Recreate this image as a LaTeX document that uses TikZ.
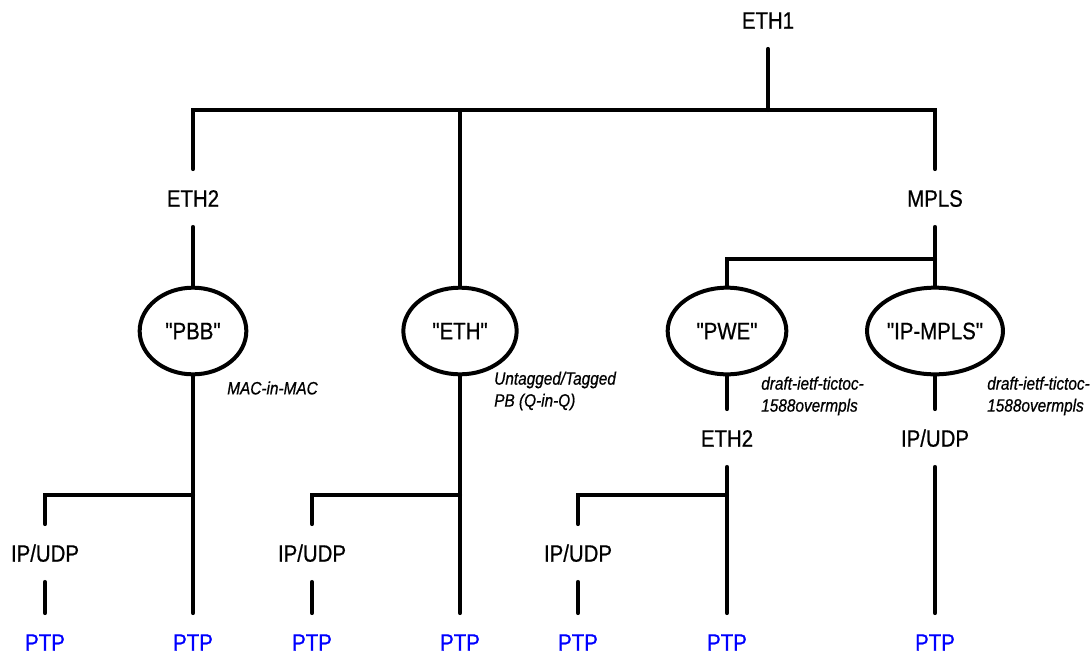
\documentclass[tikz,border=0pt]{standalone}
\usepackage{fontspec}
\setmainfont{Liberation Sans}[Ligatures=TeXOff, FakeStretch=0.86, FakeBold=0.7]
\usetikzlibrary{shapes.geometric}

\tikzset{
  lbl/.style={inner xsep=2pt, inner ysep=15pt, text height=13pt, text depth=0pt, font=\fontsize{17.8}{20}\selectfont},
  ptp/.style={lbl, text=blue},
  proto/.style={ellipse, draw, line width=3pt, inner sep=0pt, minimum height=65pt, font=\fontsize{17.8}{20}\selectfont},
  note/.style={anchor=west, align=left, inner sep=0pt, font=\fontsize{13.4}{16.5}\selectfont\itshape},
  wire/.style={line width=3pt, line cap=round}
}

\begin{document}
\begin{tikzpicture}[x=0.75pt, y=-0.75pt]
\useasboundingbox (0,0) rectangle (1091,654);

% top level
\node[lbl] (eth1) at (768,20) {ETH1};
\node[lbl] (eth2a) at (193,198) {ETH2};
\node[lbl] (mpls) at (935,198) {MPLS};
\coordinate (topbar) at (768,110);

\draw[wire] (eth1) -- (topbar);
\draw[wire] (eth2a) |- (topbar) -| (mpls);

% encapsulations
\node[proto, minimum width=80pt] (pbb) at (193,331) {"PBB"};
\node[proto, minimum width=85pt] (ethp) at (460,331) {"ETH"};
\node[proto, minimum width=89pt] (pwe) at (727,331) {"PWE"};
\node[proto, minimum width=93pt] (ipmpls) at (935,331) {"IP-MPLS"};
\coordinate (mplsbar) at (935,259);

\draw[wire] (ethp) -- (ethp |- topbar);
\draw[wire] (eth2a) -- (pbb);
\draw[wire] (mpls) -- (ipmpls);
\draw[wire] (pwe) |- (mplsbar);

\node[note] (macnote) at (227,388) {MAC-in-MAC};
\node[note] (qinqnote) at (494,391) {Untagged/Tagged\\PB (Q-in-Q)};
\node[note] (pwenote) at (761,396) {draft-ietf-tictoc-\\1588overmpls};
\node[note] (mplsnote) at (987,396) {draft-ietf-tictoc-\\1588overmpls};

% transport
\node[lbl] (eth2b) at (727,438) {ETH2};
\node[lbl] (ipudpd) at (935,438) {IP/UDP};
\node[lbl] (ipudpa) at (45,553) {IP/UDP};
\node[lbl] (ipudpb) at (312,553) {IP/UDP};
\node[lbl] (ipudpc) at (578,553) {IP/UDP};

\draw[wire] (pwe) -- (eth2b);
\draw[wire] (ipmpls) -- (ipudpd);

% PTP leaves
\node[ptp] (ptpa) at (45,642) {PTP};
\node[ptp] (ptpb) at (193,642) {PTP};
\node[ptp] (ptpc) at (312,642) {PTP};
\node[ptp] (ptpd) at (460,642) {PTP};
\node[ptp] (ptpe) at (578,642) {PTP};
\node[ptp] (ptpf) at (727,642) {PTP};
\node[ptp] (ptpg) at (935,642) {PTP};

\coordinate (pbbbar) at (193,495);
\coordinate (ethbar) at (460,495);
\coordinate (pwebar) at (727,495);

\draw[wire] (pbb) -- (ptpb);
\draw[wire] (ipudpa) |- (pbbbar);
\draw[wire] (ipudpa) -- (ptpa);

\draw[wire] (ethp) -- (ptpd);
\draw[wire] (ipudpb) |- (ethbar);
\draw[wire] (ipudpb) -- (ptpc);

\draw[wire] (eth2b) -- (ptpf);
\draw[wire] (ipudpc) |- (pwebar);
\draw[wire] (ipudpc) -- (ptpe);

\draw[wire] (ipudpd) -- (ptpg);
\end{tikzpicture}
\end{document}
